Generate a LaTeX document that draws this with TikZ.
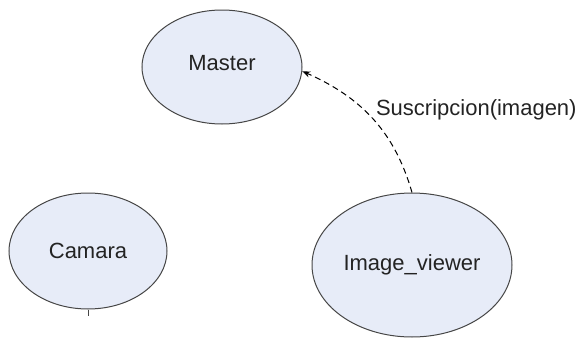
\documentclass[tikz,border=0pt]{standalone}
\usepackage{fontspec}
\setmainfont{Liberation Sans}
\usetikzlibrary{shapes.geometric}
\usetikzlibrary{arrows.meta}
\definecolor{nodefill}{RGB}{231,236,248}
\definecolor{nodeline}{RGB}{70,70,70}
\definecolor{labeltext}{RGB}{35,35,35}

\begin{document}
\begin{tikzpicture}[x=0.5pt,y=-0.5pt,
    actor/.style={ellipse, draw=nodeline, fill=nodefill, line width=0.5pt, inner sep=0pt, text=labeltext, font=\fontsize{11}{13}\selectfont},
    subs/.style={->, >={Stealth[length=4pt,width=3pt]}, dashed, dash pattern=on 3pt off 2pt, line width=0.5pt}]
      \useasboundingbox (0,0) rectangle (580,338);

      \node[actor, minimum width=80pt, minimum height=57pt] (master) at (222,67) {\raisebox{4pt}{Master}};
      \node[actor, minimum width=79pt, minimum height=58pt] (camara) at (88,251) {Camara};
      \node[actor, minimum width=100pt, minimum height=72pt] (viewer) at (412,265) {\raisebox{-2pt}{Image\_viewer}};

      \draw [subs] (viewer.north) to [out=106, in=-24] (master.-3);
      \node [anchor=west, text=labeltext, font=\fontsize{11}{13}\selectfont] (sublabel) at (369,110) {Suscripcion(imagen)};

      \draw [line width=0.5pt, draw=nodeline] (camara.south) -- ++(0,6);
    \end{tikzpicture}
\end{document}
